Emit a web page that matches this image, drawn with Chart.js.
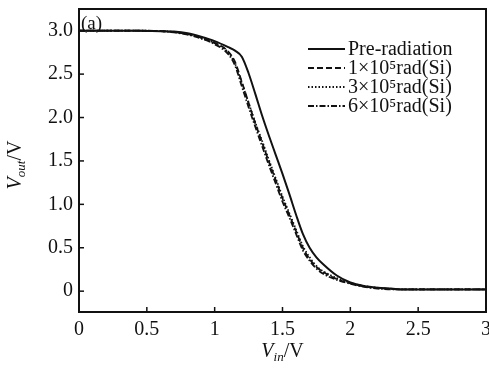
<!DOCTYPE html>
<html>
<head>
<meta charset="utf-8">
<script src="https://cdn.jsdelivr.net/npm/chart.js@4.4.0/dist/chart.umd.min.js"></script>
<style>
  html, body { margin: 0; padding: 0; background: #fff; }
</style>
</head>
<body>
<canvas id="myChart" width="489" height="370"></canvas>
<script>
// input voltage (V)
const vin = [0, 0.2, 0.4, 0.6, 0.7, 0.8, 0.9, 1.0, 1.1, 1.15, 1.2, 1.25, 1.3, 1.35, 1.4, 1.45,
  1.5, 1.55, 1.6, 1.65, 1.7, 1.75, 1.8, 1.9, 2.0, 2.1, 2.2, 2.3, 2.4, 2.6, 3.0];

// output voltage (V) for each dose
const preRad = [3.0, 3.0, 3.0, 2.995, 2.99, 2.97, 2.93, 2.88, 2.81, 2.77, 2.70, 2.51, 2.27, 2.02, 1.79, 1.57,
  1.35, 1.12, 0.88, 0.66, 0.50, 0.39, 0.31, 0.18, 0.10, 0.06, 0.04, 0.03, 0.02, 0.02, 0.02];
const rad1e5 = [3.0, 3.0, 3.0, 2.995, 2.985, 2.96, 2.92, 2.86, 2.76, 2.64, 2.41, 2.17, 1.93, 1.71, 1.49, 1.28,
  1.07, 0.88, 0.69, 0.50, 0.37, 0.28, 0.22, 0.14, 0.09, 0.055, 0.035, 0.025, 0.02, 0.02, 0.02];
const rad3e5 = [3.0, 3.0, 3.0, 2.995, 2.985, 2.96, 2.915, 2.855, 2.75, 2.62, 2.40, 2.17, 1.94, 1.73, 1.51, 1.30,
  1.09, 0.90, 0.71, 0.52, 0.39, 0.29, 0.23, 0.15, 0.095, 0.06, 0.04, 0.025, 0.02, 0.02, 0.02];
const rad6e5 = [3.0, 3.0, 3.0, 2.995, 2.98, 2.955, 2.91, 2.845, 2.73, 2.60, 2.36, 2.12, 1.89, 1.67, 1.45, 1.24,
  1.03, 0.85, 0.66, 0.47, 0.35, 0.26, 0.20, 0.13, 0.085, 0.05, 0.03, 0.02, 0.02, 0.02, 0.02];

const seriesLabels = ['Pre-radiation', '1×10⁵rad(Si)', '3×10⁵rad(Si)', '6×10⁵rad(Si)'];

// tick labels
const xTicks = [0, 0.5, 1, 1.5, 2, 2.5, 3];
const yTicks = [0, 0.5, 1.0, 1.5, 2.0, 2.5, 3.0];

const serif = '"Liberation Serif", "DejaVu Serif", serif';
const ink = '#111';

const toPoints = ys => vin.map((x, i) => ({ x: x, y: ys[i] }));

const styles = [
  { borderDash: [], borderWidth: 2 },
  { borderDash: [6, 3], borderWidth: 1.8 },
  { borderDash: [1.5, 2], borderWidth: 1.8 },
  { borderDash: [6, 2, 1.5, 2], borderWidth: 1.8 }
];

const datasets = [preRad, rad1e5, rad3e5, rad6e5].map((ys, i) => ({
  label: seriesLabels[i],
  data: toPoints(ys),
  borderColor: ink,
  borderWidth: styles[i].borderWidth,
  borderDash: styles[i].borderDash,
  pointRadius: 0,
  fill: false,
  cubicInterpolationMode: 'monotone'
}));

// composite text with subscript, centered at (0,0)
function drawSubText(ctx, parts) {
  let w = 0;
  parts.forEach(p => { ctx.font = p.font; p.w = ctx.measureText(p.t).width; w += p.w; });
  let x = -w / 2;
  parts.forEach(p => {
    ctx.font = p.font;
    ctx.fillText(p.t, x, p.dy);
    x += p.w;
  });
}

const decorations = {
  id: 'decorations',
  afterDraw(chart) {
    const ctx = chart.ctx;
    const a = chart.chartArea;
    const xs = chart.scales.x, ys = chart.scales.y;
    ctx.save();
    ctx.strokeStyle = ink;
    ctx.fillStyle = ink;

    // frame top and right
    ctx.lineWidth = 2;
    ctx.beginPath();
    ctx.moveTo(a.left, a.top);
    ctx.lineTo(a.right, a.top);
    ctx.lineTo(a.right, a.bottom);
    ctx.stroke();

    // inward ticks
    ctx.lineWidth = 1.5;
    ys.ticks.forEach(t => {
      const y = ys.getPixelForValue(t.value);
      ctx.beginPath(); ctx.moveTo(a.left, y); ctx.lineTo(a.left + 5, y); ctx.stroke();
    });
    xs.ticks.forEach(t => {
      const x = xs.getPixelForValue(t.value);
      ctx.beginPath(); ctx.moveTo(x, a.bottom); ctx.lineTo(x, a.bottom - 5); ctx.stroke();
    });

    // panel label
    ctx.font = '19px ' + serif;
    ctx.textBaseline = 'alphabetic';
    ctx.textAlign = 'left';
    ctx.fillText('(a)', a.left + 2, a.top + 20);

    // legend inside the plot
    const lx = 308, lw = 37, ly0 = 49, lstep = 19;
    chart.data.datasets.forEach((ds, i) => {
      const y = ly0 + i * lstep;
      ctx.lineWidth = ds.borderWidth;
      ctx.setLineDash(ds.borderDash);
      ctx.beginPath(); ctx.moveTo(lx, y); ctx.lineTo(lx + lw, y); ctx.stroke();
      ctx.setLineDash([]);
      ctx.font = '20px ' + serif;
      ctx.textBaseline = 'middle';
      ctx.fillText(ds.label, lx + lw + 3, y + 1);
    });

    // axis titles
    ctx.textBaseline = 'alphabetic';
    ctx.textAlign = 'left';
    ctx.save();
    ctx.translate((a.left + a.right) / 2 + 0, 357);
    drawSubText(ctx, [
      { t: 'V', font: 'italic 20px ' + serif, dy: 0 },
      { t: 'in', font: 'italic 13px ' + serif, dy: 4 },
      { t: '/V', font: '20px ' + serif, dy: 0 }
    ]);
    ctx.restore();

    ctx.save();
    ctx.translate(21, 165);
    ctx.rotate(-Math.PI / 2);
    drawSubText(ctx, [
      { t: 'V', font: 'italic 20px ' + serif, dy: 0 },
      { t: 'out', font: 'italic 13px ' + serif, dy: 4 },
      { t: '/V', font: '20px ' + serif, dy: 0 }
    ]);
    ctx.restore();

    ctx.restore();
  }
};

new Chart(document.getElementById('myChart').getContext('2d'), {
  type: 'line',
  data: { datasets: datasets },
  options: {
    responsive: false,
    animation: false,
    layout: { padding: { left: 0, right: 3, top: 9, bottom: 0 } },
    plugins: { legend: { display: false }, tooltip: { enabled: false } },
    scales: {
      x: {
        type: 'linear',
        min: 0,
        max: 3,
        grid: { display: false, drawTicks: false },
        border: { display: true, color: ink, width: 2 },
        afterBuildTicks: s => { s.ticks = xTicks.map(v => ({ value: v })); },
        ticks: {
          color: ink,
          padding: 6,
          maxRotation: 0,
          font: { family: serif, size: 20 },
          callback: v => String(v)
        },
        afterFit: s => { s.height = 58; s.paddingLeft = 0; s.paddingRight = 0; }
      },
      y: {
        type: 'linear',
        min: -0.24,
        max: 3.25,
        grid: { display: false, drawTicks: false },
        border: { display: true, color: ink, width: 2 },
        afterBuildTicks: s => { s.ticks = yTicks.map(v => ({ value: v })); },
        ticks: {
          color: ink,
          padding: 6,
          font: { family: serif, size: 20 },
          callback: v => (v === 0 ? '0' : v.toFixed(1))
        },
        afterFit: s => { s.width = 79; s.paddingTop = 0; s.paddingBottom = 0; }
      }
    }
  },
  plugins: [decorations]
});
</script>
</body>
</html>
